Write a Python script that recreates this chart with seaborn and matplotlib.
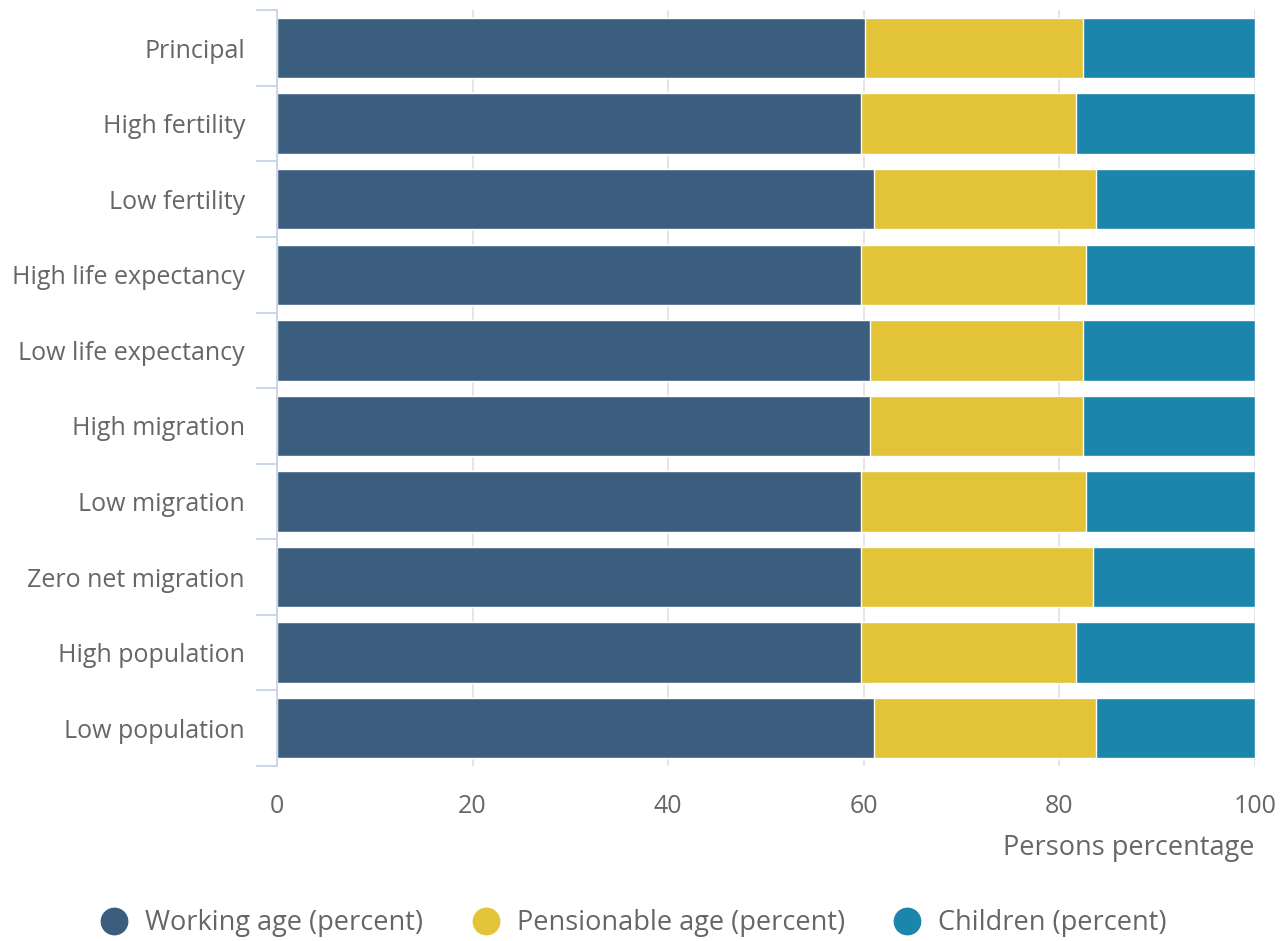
import matplotlib
matplotlib.use("Agg")
import matplotlib.pyplot as plt
from matplotlib.lines import Line2D
from matplotlib.ticker import FixedLocator
import numpy as np
import pandas as pd
import seaborn as sns

# Data
scenarios = ["Principal", "High fertility", "Low fertility", "High life expectancy",
             "Low life expectancy", "High migration", "Low migration",
             "Zero net migration", "High population", "Low population"]
working = [60.1, 59.7, 61.0, 59.7, 60.6, 60.6, 59.7, 59.7, 59.7, 61.0]
pension = [22.3, 22.0, 22.8, 23.0, 21.8, 21.8, 23.0, 23.7, 22.0, 22.8]
children = [17.6, 18.3, 16.2, 17.3, 17.6, 17.6, 17.3, 16.6, 18.3, 16.2]
series_names = ["Working age (percent)", "Pensionable age (percent)", "Children (percent)"]
colors = ["#3b5e7e", "#e3c338", "#1b85ab"]

df = pd.DataFrame({"scenario": scenarios, "working": working,
                   "pension": pension, "children": children})
df["cum_pension"] = df["working"] + df["pension"]
df["cum_children"] = df["cum_pension"] + df["children"]

sns.set_style("white")
plt.rcParams["font.family"] = ["Open Sans", "DejaVu Sans"]
text_color = "#666666"
fs = 18
fs_big = 19.5

fig, ax = plt.subplots(figsize=(12.85, 9.41), dpi=100)
fig.subplots_adjust(left=0.2155, right=0.9766, top=0.989, bottom=0.186)

# stacked bars: draw cumulative totals back to front
for col, c in [("cum_children", colors[2]), ("cum_pension", colors[1]), ("working", colors[0])]:
    sns.barplot(data=df, y="scenario", x=col, color=c, orient="h", width=0.8,
                saturation=1, ax=ax, zorder=2)

ax.set_xlim(0, 100)
ax.set_ylim(9.5, -0.5)
ax.set_xticks([0, 20, 40, 60, 80, 100])
ax.tick_params(axis="x", length=0, labelsize=fs, labelcolor=text_color, pad=20)
ax.grid(axis="x", color="#e3e3e3", linewidth=1.3, zorder=0)
ax.set_axisbelow(True)

ax.tick_params(axis="y", which="major", length=0, labelsize=fs, labelcolor=text_color, pad=23)
ax.yaxis.set_minor_locator(FixedLocator(np.arange(-0.5, 10, 1)))
ax.tick_params(axis="y", which="minor", left=True, length=15, width=1.3, color="#c8d3e8")

for s in ["top", "right", "bottom"]:
    ax.spines[s].set_visible(False)
ax.spines["left"].set_color("#c8d3e8")
ax.spines["left"].set_linewidth(1.3)

ax.set_ylabel("")
ax.set_xlabel("Persons percentage", fontsize=fs_big, color=text_color, loc="right", labelpad=11)

handles = [Line2D([0], [0], marker="o", linestyle="", markersize=19,
                  markerfacecolor=c, markeredgecolor=c) for c in colors]
fig.legend(handles, series_names, loc="lower center", ncol=3, frameon=False,
           bbox_to_anchor=(0.488, -0.022), fontsize=fs_big, labelcolor=text_color,
           columnspacing=1.3, handletextpad=0.15)

fig.savefig("out.png", dpi=100)
